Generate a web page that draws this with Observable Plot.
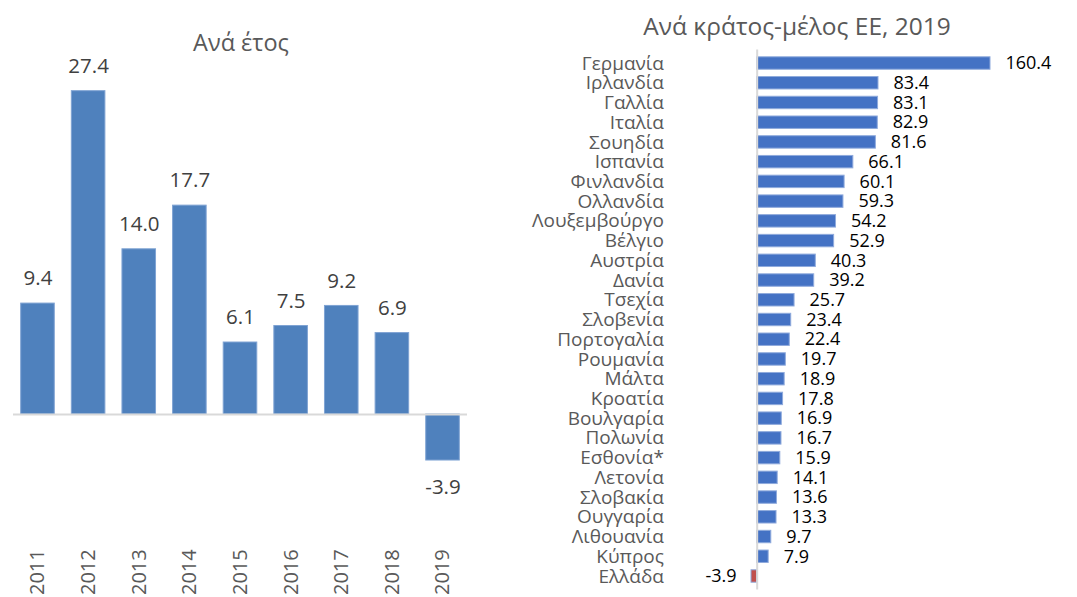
<!DOCTYPE html>
<html>
<head>
<meta charset="utf-8">
<script src="https://cdn.jsdelivr.net/npm/d3@7"></script>
<script src="https://cdn.jsdelivr.net/npm/@observablehq/plot@0.6"></script>
<style>
  body { margin: 0; background: #fff; font-family: "Open Sans", sans-serif; }
  #wrap { position: relative; width: 1077px; height: 597px; overflow: hidden; }
  #left { position: absolute; left: 0; top: 0; }
  #right { position: absolute; left: 530px; top: 0; }
  .title { position: absolute; color: #595959; white-space: nowrap; transform: translate(-50%, -50%); }
</style>
</head>
<body>
<div id="wrap">
  <div id="left"></div>
  <div id="right"></div>
  <div class="title" style="left:241px; top:42px; font-size:23.5px;">Ανά έτος</div>
  <div class="title" style="left:797px; top:25px; font-size:24.5px;">Ανά κράτος-μέλος ΕΕ, 2019</div>
</div>
<script>
const years = ["2011", "2012", "2013", "2014", "2015", "2016", "2017", "2018", "2019"];
const yearValues = [9.4, 27.4, 14.0, 17.7, 6.1, 7.5, 9.2, 6.9, -3.9];

const countries = ["Γερμανία", "Ιρλανδία", "Γαλλία", "Ιταλία", "Σουηδία", "Ισπανία", "Φινλανδία",
  "Ολλανδία", "Λουξεμβούργο", "Βέλγιο", "Αυστρία", "Δανία", "Τσεχία", "Σλοβενία", "Πορτογαλία",
  "Ρουμανία", "Μάλτα", "Κροατία", "Βουλγαρία", "Πολωνία", "Εσθονία*", "Λετονία", "Σλοβακία",
  "Ουγγαρία", "Λιθουανία", "Κύπρος", "Ελλάδα"];
const countryValues = [160.4, 83.4, 83.1, 82.9, 81.6, 66.1, 60.1, 59.3, 54.2, 52.9, 40.3, 39.2,
  25.7, 23.4, 22.4, 19.7, 18.9, 17.8, 16.9, 16.7, 15.9, 14.1, 13.6, 13.3, 9.7, 7.9, -3.9];

const yearData = years.map((y, i) => ({year: y, value: yearValues[i]}));
const countryData = countries.map((c, i) => ({country: c, value: countryValues[i]}));

const left = Plot.plot({
  width: 530,
  height: 597,
  marginLeft: 13,
  marginRight: 63,
  marginTop: 60,
  marginBottom: 53.2,
  style: {fontFamily: "Open Sans", fontSize: "20px", color: "#595959", background: "transparent"},
  x: {domain: years, paddingInner: 0.337, paddingOuter: 0.152, round: false, label: null},
  y: {domain: [-11, 30], axis: null},
  marks: [
    Plot.barY(yearData, {x: "year", y: "value", fill: "#4F81BD", stroke: "#7FA3D3", strokeWidth: 1}),
    Plot.ruleY([0], {stroke: "#d9d9d9", strokeWidth: 2}),
    Plot.text(yearData.filter(d => d.value >= 0), {x: "year", y: "value", text: d => d.value.toFixed(1), dy: -25, fill: "#404040", fontSize: 20.5}),
    Plot.text(yearData.filter(d => d.value < 0), {x: "year", y: "value", text: d => d.value.toFixed(1), dy: 27, fill: "#404040", fontSize: 20.5}),
    Plot.axisX({tickRotate: -90, tickSize: 0, tickPadding: 5, label: null, fill: "#595959", fontSize: 20})
  ]
});
document.getElementById("left").appendChild(left);

const right = Plot.plot({
  width: 547,
  height: 597,
  marginLeft: 139.4,
  marginRight: 29.4,
  marginTop: 49.5,
  marginBottom: 7.5,
  style: {fontFamily: "Open Sans", fontSize: "18px", color: "#595959", background: "transparent"},
  x: {domain: [-60, 200], axis: null},
  y: {domain: countries, padding: 0.37, round: false, label: null},
  marks: [
    Plot.barX(countryData, {y: "country", x: "value", fill: d => d.value < 0 ? "#C0504D" : "#4472C4", stroke: "#8FAADC", strokeWidth: 1}),
    Plot.ruleX([0], {stroke: "#d9d9d9", strokeWidth: 2}),
    Plot.text(countryData.filter(d => d.value >= 0), {y: "country", x: "value", text: d => d.value.toFixed(1), dx: 15, textAnchor: "start", fill: "#000", fontSize: 18}),
    Plot.text(countryData.filter(d => d.value < 0), {y: "country", x: "value", text: d => d.value.toFixed(1), dx: -15, textAnchor: "end", fill: "#000", fontSize: 18}),
    Plot.axisY({tickSize: 0, tickPadding: 6, label: null, fill: "#595959", fontSize: 19})
  ]
});
document.getElementById("right").appendChild(right);
</script>
</body>
</html>
